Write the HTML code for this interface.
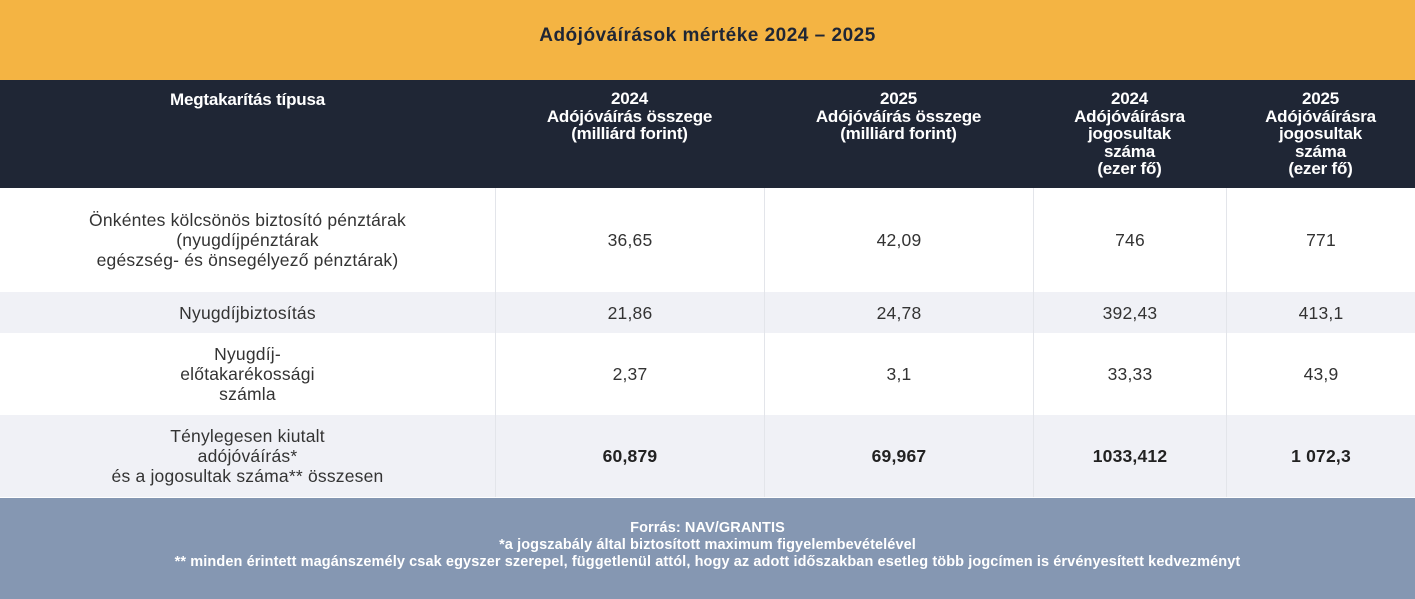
<!DOCTYPE html>
<html><head><meta charset="utf-8"><style>
*{margin:0;padding:0;box-sizing:border-box}
body{width:1415px;height:599px;overflow:hidden;background:#fff;font-family:"Liberation Sans",sans-serif;position:relative}
.a{position:absolute}
.title{left:0;top:0;width:1415px;height:80px;background:#f4b443;color:#1f2635;font-weight:bold;font-size:19px;text-align:center;line-height:72px;letter-spacing:0.5px}
.head{left:0;top:80px;width:1415px;height:108px;background:#1f2635}
.h{position:absolute;top:10px;color:#fff;font-weight:bold;font-size:17px;line-height:17.5px;text-align:center;letter-spacing:-0.2px}
.row{position:absolute;left:0;width:1415px}
.c{position:absolute;top:0;height:100%;display:flex;align-items:center;justify-content:center;text-align:center;font-size:17.5px;color:#333;line-height:20px;letter-spacing:0.2px}
.b{border-left:1px solid #e3e5ea}
.foot{left:0;top:498px;width:1415px;height:101px;background:#8597b2;color:#fff;font-weight:bold;font-size:14.5px;line-height:17px;text-align:center;padding-top:22px;letter-spacing:0.1px}
</style></head><body>
<div class="a title">Adójóváírások mértéke 2024 – 2025</div>
<div class="a head">
<div class="h" style="left:0;width:495px;top:11px">Megtakarítás típusa</div>
<div class="h" style="left:495px;width:269px">2024<br>Adójóváírás összege<br>(milliárd forint)</div>
<div class="h" style="left:764px;width:269px">2025<br>Adójóváírás összege<br>(milliárd forint)</div>
<div class="h" style="left:1033px;width:193px">2024<br>Adójóváírásra<br>jogosultak<br>száma<br>(ezer fő)</div>
<div class="h" style="left:1226px;width:189px">2025<br>Adójóváírásra<br>jogosultak<br>száma<br>(ezer fő)</div>
</div>
<div class="row" style="top:188px;height:104px;background:#fff">
<div class="c" style="left:0;width:495px">Önkéntes kölcsönös biztosító pénztárak<br>(nyugdíjpénztárak<br>egészség- és önsegélyező pénztárak)</div>
<div class="c b" style="left:495px;width:269px">36,65</div>
<div class="c b" style="left:764px;width:269px">42,09</div>
<div class="c b" style="left:1033px;width:193px">746</div>
<div class="c b" style="left:1226px;width:189px">771</div>
</div>
<div class="row" style="top:292px;height:41px;background:#f0f1f6">
<div class="c" style="left:0;width:495px">Nyugdíjbiztosítás</div>
<div class="c b" style="left:495px;width:269px">21,86</div>
<div class="c b" style="left:764px;width:269px">24,78</div>
<div class="c b" style="left:1033px;width:193px">392,43</div>
<div class="c b" style="left:1226px;width:189px">413,1</div>
</div>
<div class="row" style="top:333px;height:82px;background:#fff">
<div class="c" style="left:0;width:495px">Nyugdíj-<br>előtakarékossági<br>számla</div>
<div class="c b" style="left:495px;width:269px">2,37</div>
<div class="c b" style="left:764px;width:269px">3,1</div>
<div class="c b" style="left:1033px;width:193px">33,33</div>
<div class="c b" style="left:1226px;width:189px">43,9</div>
</div>
<div class="row" style="top:415px;height:82px;background:#f0f1f6">
<div class="c" style="left:0;width:495px">Ténylegesen kiutalt<br>adójóváírás*<br>és a jogosultak száma** összesen</div>
<div class="c b" style="left:495px;width:269px;font-weight:bold;color:#222">60,879</div>
<div class="c b" style="left:764px;width:269px;font-weight:bold;color:#222">69,967</div>
<div class="c b" style="left:1033px;width:193px;font-weight:bold;color:#222">1033,412</div>
<div class="c b" style="left:1226px;width:189px;font-weight:bold;color:#222">1 072,3</div>
</div>
<div class="a foot">Forrás: NAV/GRANTIS<br>*a jogszabály által biztosított maximum figyelembevételével<br>** minden érintett magánszemély csak egyszer szerepel, függetlenül attól, hogy az adott időszakban esetleg több jogcímen is érvényesített kedvezményt</div>
</body></html>
